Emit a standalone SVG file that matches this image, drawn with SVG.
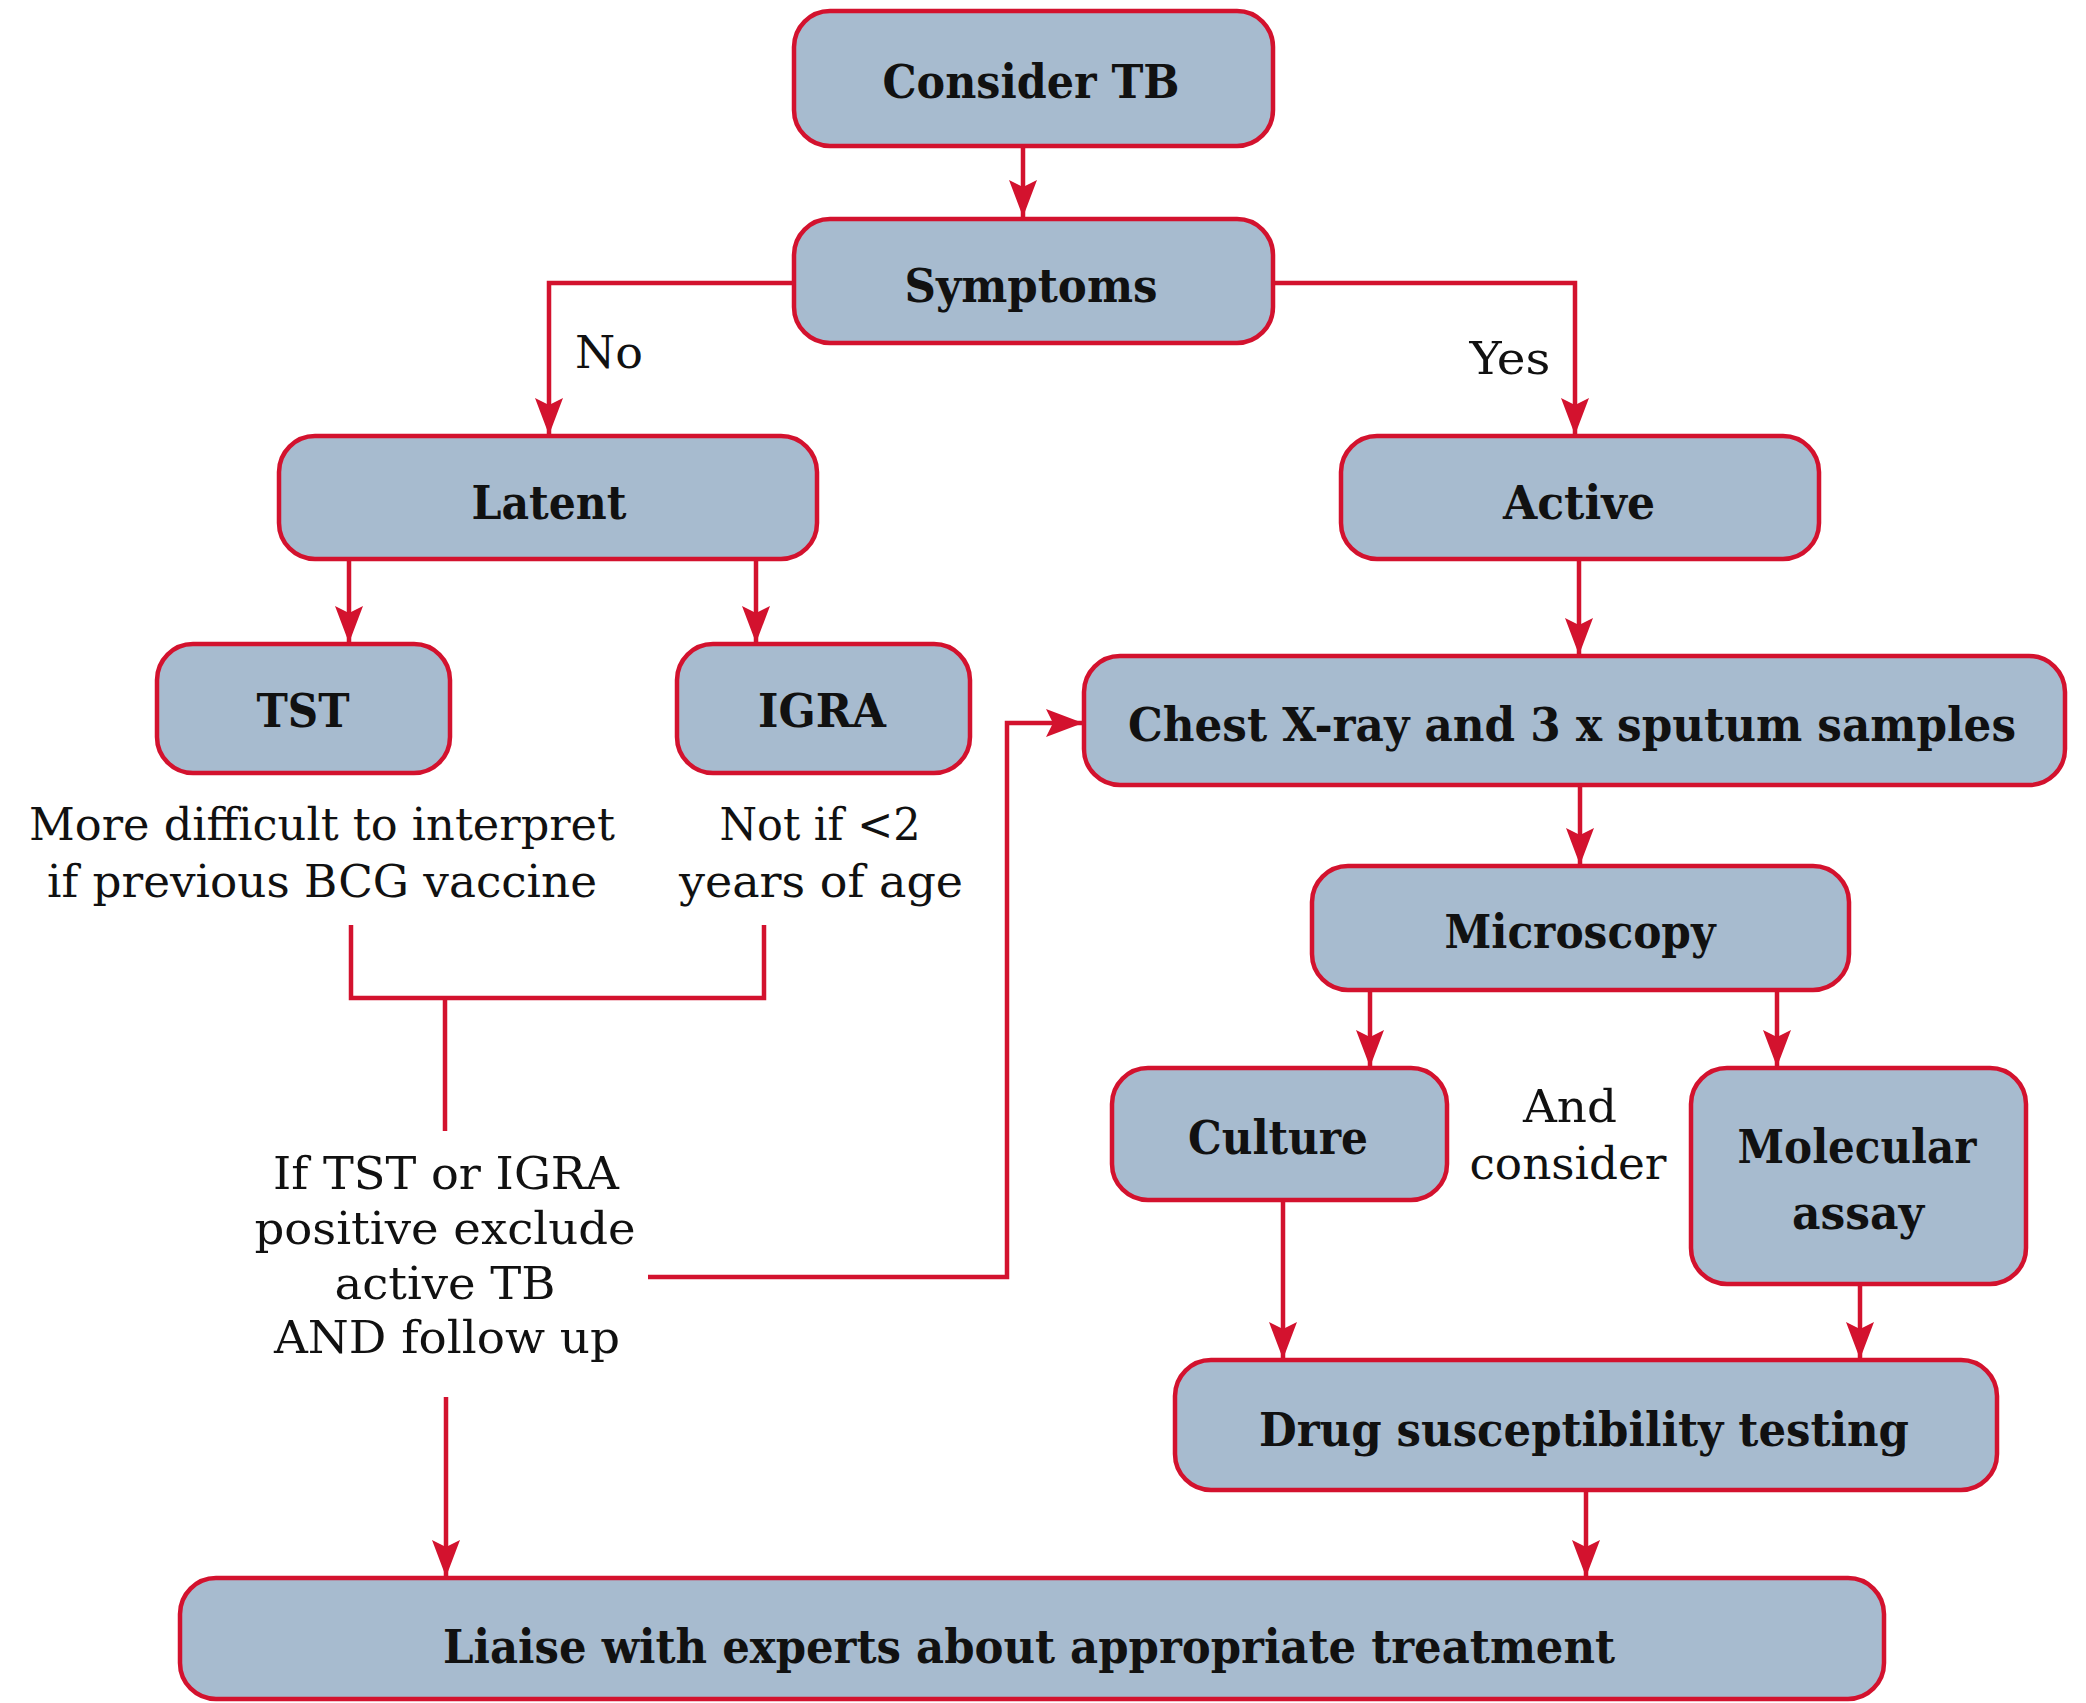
<svg xmlns="http://www.w3.org/2000/svg" width="2086" height="1703" viewBox="0 0 2086 1703">
<style>
.box{fill:#a7bbcf;stroke:#d3122e;stroke-width:4.5}
.lbl{font-family:"DejaVu Serif Condensed","DejaVu Serif",serif;font-weight:bold;font-size:46px;fill:#111;text-anchor:middle}
.txt{font-family:"DejaVu Serif Condensed","DejaVu Serif",serif;font-size:45px;fill:#111;text-anchor:middle}
.con{fill:none;stroke:#d3122e;stroke-width:4.5}
</style>
<defs>
<marker id="ah" markerUnits="userSpaceOnUse" viewBox="0 0 38 30" markerWidth="38" markerHeight="30" refX="37" refY="15" orient="auto">
<path d="M0,1 L37,15 L0,29 L7,15 Z" fill="#d3122e"/>
</marker>
</defs>
<rect width="2086" height="1703" fill="#ffffff"/>
<g id="connectors">
<path class="con" d="M1023,146 V217" marker-end="url(#ah)"/>
<path class="con" d="M794,283 H549 V435" marker-end="url(#ah)"/>
<path class="con" d="M1273,283 H1575 V435" marker-end="url(#ah)"/>
<path class="con" d="M349,559 V643" marker-end="url(#ah)"/>
<path class="con" d="M756,559 V643" marker-end="url(#ah)"/>
<path class="con" d="M351,925 V998 H764 V925"/>
<path class="con" d="M445,998 V1131"/>
<path class="con" d="M648,1277 H1007 V723 H1083" marker-end="url(#ah)"/>
<path class="con" d="M446,1397 V1577" marker-end="url(#ah)"/>
<path class="con" d="M1579,559 V655" marker-end="url(#ah)"/>
<path class="con" d="M1580,785 V865" marker-end="url(#ah)"/>
<path class="con" d="M1370,990 V1067" marker-end="url(#ah)"/>
<path class="con" d="M1777,990 V1067" marker-end="url(#ah)"/>
<path class="con" d="M1283,1200 V1359" marker-end="url(#ah)"/>
<path class="con" d="M1860,1284 V1359" marker-end="url(#ah)"/>
<path class="con" d="M1586,1490 V1577" marker-end="url(#ah)"/>
</g>
<g id="consider-tb"><rect class="box" x="794" y="11" width="479" height="135" rx="36"/><text class="lbl" x="1031" y="98" textLength="297" lengthAdjust="spacingAndGlyphs">Consider TB</text></g>
<g id="symptoms"><rect class="box" x="794" y="219" width="479" height="124" rx="36"/><text class="lbl" x="1031" y="302" textLength="253" lengthAdjust="spacingAndGlyphs">Symptoms</text></g>
<g id="latent"><rect class="box" x="279" y="436" width="538" height="123" rx="36"/><text class="lbl" x="549" y="519" textLength="155" lengthAdjust="spacingAndGlyphs">Latent</text></g>
<g id="active"><rect class="box" x="1341" y="436" width="478" height="123" rx="36"/><text class="lbl" x="1579" y="519" textLength="152" lengthAdjust="spacingAndGlyphs">Active</text></g>
<g id="tst"><rect class="box" x="157" y="644" width="293" height="129" rx="36"/><text class="lbl" x="303" y="727" textLength="93" lengthAdjust="spacingAndGlyphs">TST</text></g>
<g id="igra"><rect class="box" x="677" y="644" width="293" height="129" rx="36"/><text class="lbl" x="822" y="727" textLength="128" lengthAdjust="spacingAndGlyphs">IGRA</text></g>
<g id="chest"><rect class="box" x="1084" y="656" width="981" height="129" rx="36"/><text class="lbl" x="1572" y="741" textLength="888" lengthAdjust="spacingAndGlyphs">Chest X-ray and 3 x sputum samples</text></g>
<g id="microscopy"><rect class="box" x="1312" y="866" width="537" height="124" rx="36"/><text class="lbl" x="1580" y="948" textLength="271" lengthAdjust="spacingAndGlyphs">Microscopy</text></g>
<g id="culture"><rect class="box" x="1112" y="1068" width="335" height="132" rx="36"/><text class="lbl" x="1278" y="1154" textLength="180" lengthAdjust="spacingAndGlyphs">Culture</text></g>
<g id="molecular"><rect class="box" x="1691" y="1068" width="335" height="216" rx="36"/><text class="lbl" x="1857" y="1163" textLength="239" lengthAdjust="spacingAndGlyphs">Molecular</text><text class="lbl" x="1858" y="1229" textLength="132" lengthAdjust="spacingAndGlyphs">assay</text></g>
<g id="drug"><rect class="box" x="1175" y="1360" width="822" height="130" rx="36"/><text class="lbl" x="1584" y="1446" textLength="650" lengthAdjust="spacingAndGlyphs">Drug susceptibility testing</text></g>
<g id="liaise"><rect class="box" x="180" y="1578" width="1704" height="121" rx="36"/><text class="lbl" x="1029" y="1663" textLength="1172" lengthAdjust="spacingAndGlyphs">Liaise with experts about appropriate treatment</text></g>
<g id="labels">
<text class="txt" x="609" y="368" textLength="68" lengthAdjust="spacingAndGlyphs">No</text>
<text class="txt" x="1510" y="374" textLength="81" lengthAdjust="spacingAndGlyphs">Yes</text>
<text class="txt" x="322" y="840" textLength="586" lengthAdjust="spacingAndGlyphs">More difficult to interpret</text>
<text class="txt" x="322" y="897" textLength="550" lengthAdjust="spacingAndGlyphs">if previous BCG vaccine</text>
<text class="txt" x="820" y="840" textLength="201" lengthAdjust="spacingAndGlyphs">Not if &lt;2</text>
<text class="txt" x="821" y="897" textLength="284" lengthAdjust="spacingAndGlyphs">years of age</text>
<text class="txt" x="446" y="1189" textLength="346" lengthAdjust="spacingAndGlyphs">If TST or IGRA</text>
<text class="txt" x="445" y="1244" textLength="381" lengthAdjust="spacingAndGlyphs">positive exclude</text>
<text class="txt" x="445" y="1299" textLength="221" lengthAdjust="spacingAndGlyphs">active TB</text>
<text class="txt" x="447" y="1353" textLength="346" lengthAdjust="spacingAndGlyphs">AND follow up</text>
<text class="txt" x="1570" y="1122" textLength="94" lengthAdjust="spacingAndGlyphs">And</text>
<text class="txt" x="1568" y="1179" textLength="197" lengthAdjust="spacingAndGlyphs">consider</text>
</g>
</svg>
